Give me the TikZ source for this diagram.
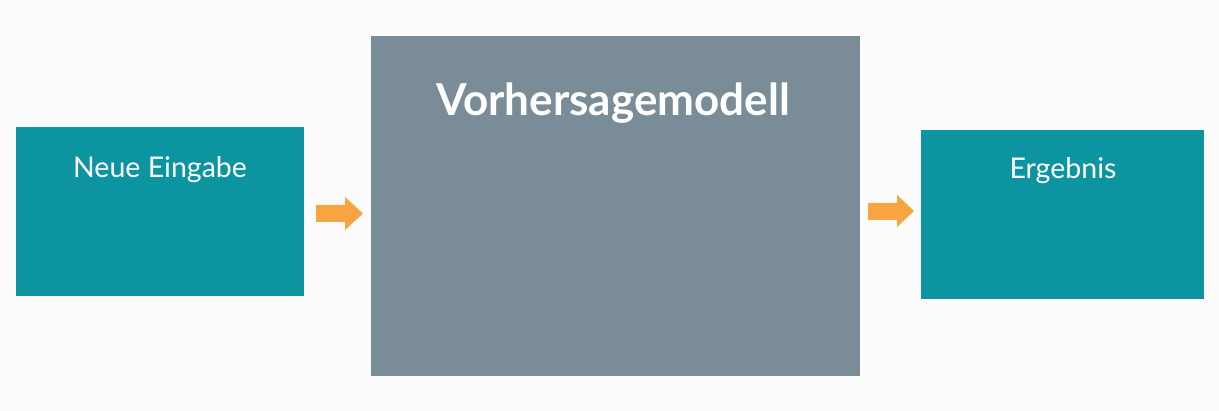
\documentclass[tikz,border=0pt]{standalone}
\usepackage{fontspec}
\setmainfont{Lato}
\definecolor{bg}{HTML}{FBFBFB}
\definecolor{teal}{HTML}{0C94A0}
\definecolor{slate}{HTML}{798C97}
\definecolor{orng}{HTML}{F8A440}
\tikzset{
  box/.style={fill=teal, draw=none},
  bigbox/.style={fill=slate, draw=none},
  lbl/.style={text=white, font=\fontsize{28.5}{32}\selectfont, anchor=center},
  title/.style={text=white, font=\fontsize{44}{48}\selectfont\bfseries, anchor=center},
  blockarrow/.style={fill=orng, draw=none}
}
\begin{document}
\begin{tikzpicture}[x=1pt,y=-1pt]
\fill[bg] (0,0) rectangle (1219,411);
\useasboundingbox (0,0) rectangle (1219,411);
% boxes
\fill[box] (16,127) rectangle (304,296);
\fill[bigbox] (371,36) rectangle (860,376);
\fill[box] (921,130) rectangle (1204,299);
\node[lbl] (in) at (160,170) {Neue Eingabe};
\node[title] (model) at (613,103) {Vorhersagemodell};
\node[lbl] (out) at (1063,171) {Ergebnis};
% arrows
\fill[blockarrow] (316,205) -- (345,205) -- (345,197) -- (363,213.5) -- (345,230) -- (345,222) -- (316,222) -- cycle;
\fill[blockarrow] (868,203) -- (897,203) -- (897,195) -- (914,211) -- (897,227) -- (897,220) -- (868,220) -- cycle;
\end{tikzpicture}
\end{document}
